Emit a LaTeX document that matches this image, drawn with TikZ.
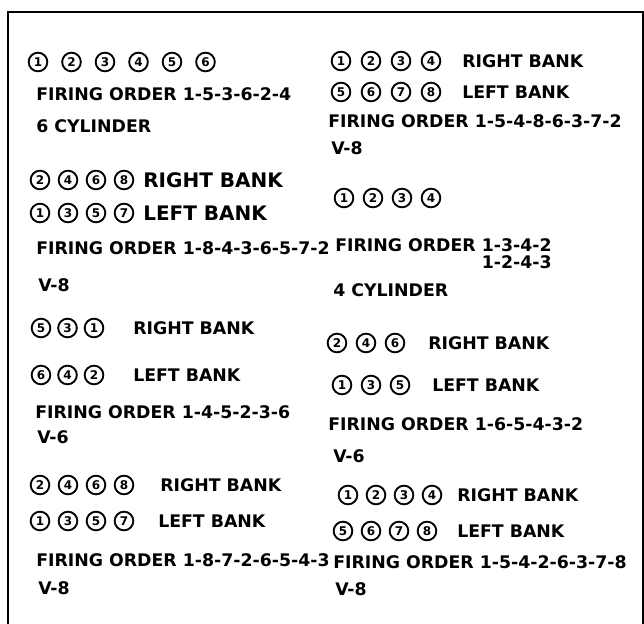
\documentclass[tikz,border=0pt]{standalone}
\usepackage{fontspec}
\setmainfont{DejaVu Sans}
\usepackage{tikz}

\begin{document}
\begin{tikzpicture}[
    x=0.75pt, y=-0.75pt,
    lbl/.style={anchor=west, inner sep=0pt, text height=9.5pt, text depth=0pt,
      font=\fontsize{13}{15}\selectfont\bfseries},
    biglbl/.style={lbl, text height=11pt, font=\fontsize{15}{17}\selectfont\bfseries},
    cyl/.style={draw, circle, line width=1.4pt, minimum size=14pt, inner sep=0pt,
      font=\fontsize{9}{10}\selectfont\bfseries}]
    \useasboundingbox (0,0) rectangle (644,624);
    \draw[line width=1.2pt] (8,624) -- (8,12) -- (643,12) -- (643,624);
    % 6 cylinder
    \foreach \n [count=\i] in {1,2,3,4,5,6}
      \node[cyl] (a\i) at (38+33.5*\i-33.5, 62) {\n};
    \node[lbl] (aFire) at (36,94) {FIRING ORDER 1-5-3-6-2-4};
    \node[lbl] (aType) at (36,126) {6 CYLINDER};
    % V-8, 1-8-4-3-6-5-7-2
    \foreach \n [count=\i] in {2,4,6,8}
      \node[cyl] (bR\i) at (40+28*\i-28, 180) {\n};
    \node[biglbl] (bRight) at (143,180) {RIGHT BANK};
    \foreach \n [count=\i] in {1,3,5,7}
      \node[cyl] (bL\i) at (40+28*\i-28, 213) {\n};
    \node[biglbl] (bLeft) at (143,213) {LEFT BANK};
    \node[lbl] (bFire) at (36,248) {FIRING ORDER 1-8-4-3-6-5-7-2};
    \node[lbl] (bType) at (38,285) {V-8};
    % V-6, 1-4-5-2-3-6
    \foreach \n [count=\i] in {5,3,1}
      \node[cyl] (cR\i) at (41+26.5*\i-26.5, 328) {\n};
    \node[lbl] (cRight) at (133,328) {RIGHT BANK};
    \foreach \n [count=\i] in {6,4,2}
      \node[cyl] (cL\i) at (41+26.5*\i-26.5, 375) {\n};
    \node[lbl] (cLeft) at (133,375) {LEFT BANK};
    \node[lbl] (cFire) at (35,412) {FIRING ORDER 1-4-5-2-3-6};
    \node[lbl] (cType) at (37,437) {V-6};
    % V-8, 1-8-7-2-6-5-4-3
    \foreach \n [count=\i] in {2,4,6,8}
      \node[cyl] (dR\i) at (40+28*\i-28, 485) {\n};
    \node[lbl] (dRight) at (160,485) {RIGHT BANK};
    \foreach \n [count=\i] in {1,3,5,7}
      \node[cyl] (dL\i) at (40+28*\i-28, 521) {\n};
    \node[lbl] (dLeft) at (158,521) {LEFT BANK};
    \node[lbl] (dFire) at (36,560) {FIRING ORDER 1-8-7-2-6-5-4-3};
    \node[lbl] (dType) at (38,588) {V-8};
    % V-8, 1-5-4-8-6-3-7-2
    \foreach \n [count=\i] in {1,2,3,4}
      \node[cyl] (eR\i) at (341+30*\i-30, 61) {\n};
    \node[lbl] (eRight) at (462,61) {RIGHT BANK};
    \foreach \n [count=\i] in {5,6,7,8}
      \node[cyl] (eL\i) at (341+30*\i-30, 92) {\n};
    \node[lbl] (eLeft) at (462,92) {LEFT BANK};
    \node[lbl] (eFire) at (328,121) {FIRING ORDER 1-5-4-8-6-3-7-2};
    \node[lbl] (eType) at (331,148) {V-8};
    % 4 cylinder
    \foreach \n [count=\i] in {1,2,3,4}
      \node[cyl] (f\i) at (344+29*\i-29, 198) {\n};
    \node[lbl] (fFire) at (335,245) {FIRING ORDER 1-3-4-2};
    \node[lbl, anchor=north east] (fAlt) at ([yshift=-3pt]fFire.south east) {1-2-4-3};
    \node[lbl] (fType) at (333,290) {4 CYLINDER};
    % V-6, 1-6-5-4-3-2
    \foreach \n [count=\i] in {2,4,6}
      \node[cyl] (gR\i) at (337+29*\i-29, 343) {\n};
    \node[lbl] (gRight) at (428,343) {RIGHT BANK};
    \foreach \n [count=\i] in {1,3,5}
      \node[cyl] (gL\i) at (342+29*\i-29, 385) {\n};
    \node[lbl] (gLeft) at (432,385) {LEFT BANK};
    \node[lbl] (gFire) at (328,424) {FIRING ORDER 1-6-5-4-3-2};
    \node[lbl] (gType) at (333,456) {V-6};
    % V-8, 1-5-4-2-6-3-7-8
    \foreach \n [count=\i] in {1,2,3,4}
      \node[cyl] (hR\i) at (348+28*\i-28, 495) {\n};
    \node[lbl] (hRight) at (457,495) {RIGHT BANK};
    \foreach \n [count=\i] in {5,6,7,8}
      \node[cyl] (hL\i) at (343+28*\i-28, 531) {\n};
    \node[lbl] (hLeft) at (457,531) {LEFT BANK};
    \node[lbl] (hFire) at (333,562) {FIRING ORDER 1-5-4-2-6-3-7-8};
    \node[lbl] (hType) at (335,589) {V-8};
\end{tikzpicture}
\end{document}
